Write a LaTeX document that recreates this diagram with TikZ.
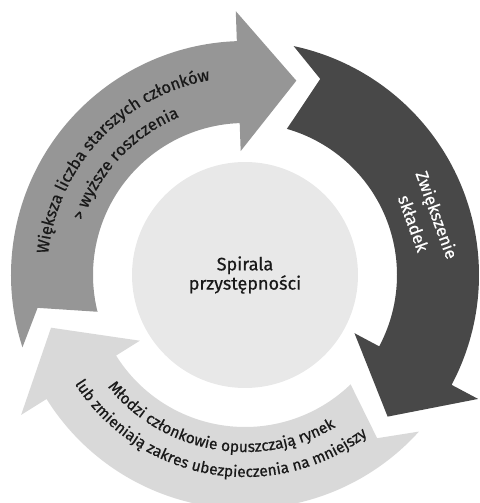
\documentclass[tikz,border=0pt]{standalone}
\usepackage{fontspec}
\setmainfont{Fira Sans}[FakeBold=0.6]
\usetikzlibrary{decorations.text}

\definecolor{arrowgrey}{RGB}{150,150,150}
\definecolor{arrowdark}{RGB}{72,72,72}
\definecolor{arrowlight}{RGB}{217,217,217}
\definecolor{hubgrey}{RGB}{232,232,232}
\definecolor{inkgrey}{RGB}{25,25,25}

\newcommand{\arcfont}{\fontsize{16.5}{20}\selectfont}
\newcommand{\lowarcfont}{\fontsize{15.5}{20}\selectfont}
\newcommand{\hubfont}{\fontsize{18}{18}\selectfont}

%one arrow of the cycle, turned by #1 degrees
\newcommand{\cyclearrow}[2]{%
  \fill[#2, shift={(O)}, rotate=#1] (78:234) arc[start angle=78, end angle=-28, radius=234]
    -- (-28:264) -- (-44.8:201) -- (-28:124) -- (-28:152)
    arc[start angle=-28, end angle=74, radius=152] -- (69:210) -- cycle;}

\begin{document}
\begin{tikzpicture}[x=1pt,y=1pt,
  curvetext/.style={decorate, decoration={text along path, text align=center, text={#1}}}]
\useasboundingbox (0,0) rectangle (479,503);
%Centre
\coordinate (O) at (245,228);

%Arrows
\cyclearrow{120}{arrowgrey}
\cyclearrow{0}{arrowdark}
\cyclearrow{-120}{arrowlight}

%Hub
\node[circle, fill=hubgrey, minimum size=226pt, inner sep=0pt, align=center,
  font=\hubfont, text=inkgrey] (hub) at (O) {Spirala\\przystępności};

%Texts on the arrows
\path[curvetext={|\arcfont\color{inkgrey}|Większa liczba starszych członków}]
  ([shift={(O)}]200:198) arc[start angle=200, end angle=74, radius=198];
\path[curvetext={|\arcfont\color{inkgrey}|> wyższe roszczenia}]
  ([shift={(O)}]200:171) arc[start angle=200, end angle=74, radius=171];

\node[rotate=-70, text=white, align=center, font=\fontsize{17}{25}\selectfont]
  (premium) at (425.5,284) {Zwiększenie\\składek};

\path[curvetext={|\lowarcfont\color{inkgrey}|Młodzi członkowie opuszczają rynek}]
  ([shift={(O)}]200:177) arc[start angle=200, end angle=320, radius=177];
\path[curvetext={|\lowarcfont\color{inkgrey}|lub zmieniają zakres ubezpieczenia na mniejszy}]
  ([shift={(O)}]200:202) arc[start angle=200, end angle=320, radius=202];
\end{tikzpicture}
\end{document}
